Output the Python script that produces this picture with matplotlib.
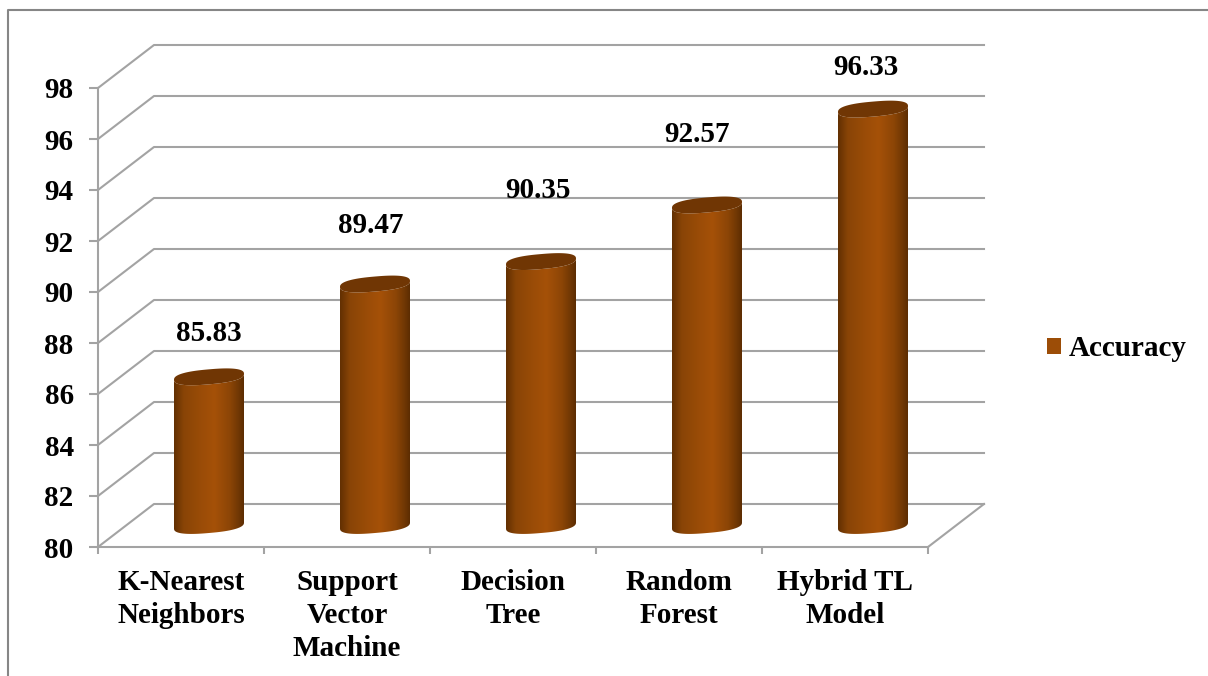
import numpy as np
import matplotlib
matplotlib.use("Agg")
import matplotlib.pyplot as plt
from matplotlib.colors import LinearSegmentedColormap
from matplotlib.lines import Line2D
from matplotlib.patches import Patch, Polygon

categories = ["K-Nearest\nNeighbors", "Support\nVector\nMachine", "Decision\nTree",
              "Random\nForest", "Hybrid TL\nModel"]
accuracy = [85.83, 89.47, 90.35, 92.57, 96.33]
y_ticks = [80, 82, 84, 86, 88, 90, 92, 94, 96, 98]

W, H = 1208, 676
GRID = "#a3a3a3"
BAR = "#9c4d07"
TOP = "#703604"

plt.rcParams["font.family"] = ["Liberation Serif", "DejaVu Serif"]
plt.rcParams["font.weight"] = "bold"
plt.rcParams["font.size"] = 21

fig = plt.figure(figsize=(W / 100, H / 100), dpi=100)
ax = fig.add_axes([98 / W, (H - 547) / H, 830 / W, 459 / H])
ax.set_xlim(0, 5)
ax.set_ylim(80, 98)

# pixel sizes turned into data units
px_x = 5 / 830
px_y = 18 / 459
depth_x = 56 * px_x
depth_y = 43 * px_y

# outer chart border, only left and top are in view
fig.add_artist(Line2D([8 / W, 8 / W, 1], [0, 1 - 10 / H, 1 - 10 / H],
                      color="#868686", lw=1.5, transform=fig.transFigure))

# walls of the fake 3d box
for v in y_ticks:
    ax.plot([0, depth_x, 5 + depth_x], [v, v + depth_y, v + depth_y],
            color=GRID, lw=1.5, clip_on=False, zorder=1)
ax.plot([5, 5 + depth_x], [80, 80 + depth_y], color=GRID, lw=1.5, clip_on=False, zorder=1)

shade = LinearSegmentedColormap.from_list(
    "cyl", [(0, "#623002"), (0.14, "#894406"), (0.35, "#984b07"), (0.58, "#a55108"),
            (0.8, "#8c4506"), (0.93, "#6f3704"), (1, "#5c2d02")])
t = np.linspace(0, 2 * np.pi, 121)
gradient = np.linspace(0, 1, 256).reshape(1, -1)
half_w = 35 * px_x


def ring(angles):
    # slightly squarish tilted ellipse, offsets in data units
    c = np.sign(np.cos(angles)) * np.abs(np.cos(angles)) ** 0.8
    s = np.sign(np.sin(angles)) * np.abs(np.sin(angles)) ** 0.8
    return half_w * c, (3 * c + 7.5 * s) * px_y


for i, value in enumerate(accuracy):
    cx = i + 0.5 + depth_x / 2
    y0 = 80 + depth_y / 2
    y1 = value + depth_y / 2
    ex, ey = ring(t)
    low_dx, low_dy = ring(t[60:121])    # lower half, left to right
    outline = np.vstack([np.column_stack([cx + low_dx, y0 + low_dy]),
                         np.column_stack([cx + low_dx[::-1], y1 + low_dy[::-1]])])
    body = ax.imshow(gradient, cmap=shade, aspect="auto", zorder=3,
                     extent=[cx - half_w, cx + half_w, y0 - 1, y1 + 1])
    body.set_clip_path(Polygon(outline, closed=True, transform=ax.transData))
    ax.add_patch(Polygon(np.column_stack([cx + ex, y1 + ey]), closed=True,
                         facecolor=TOP, edgecolor="none", clip_on=False, zorder=4))

ax.set_xlim(0, 5)
ax.set_ylim(80, 98)

# data labels were placed by hand in the original
label_nudge = [(0, 43), (-4, 59), (-3, 71), (-10, 70), (-7, 42)]
for i, value in enumerate(accuracy):
    ax.text(i + 0.5 + depth_x / 2 + label_nudge[i][0] * px_x,
            value + depth_y / 2 + label_nudge[i][1] * px_y,
            f"{value:.2f}", ha="center", va="center", color="black",
            clip_on=False, zorder=5)

for side in ["top", "right"]:
    ax.spines[side].set_visible(False)
for side in ["left", "bottom"]:
    ax.spines[side].set_color(GRID)
    ax.spines[side].set_linewidth(1.5)
ax.patch.set_alpha(0)

ax.set_yticks(y_ticks)
ax.tick_params(axis="y", length=6.5, width=1.5, color=GRID, pad=11)
ax.set_xticks(range(6))
ax.set_xticklabels([])
ax.tick_params(axis="x", which="major", length=5, width=1.5, color=GRID)
ax.set_xticks(np.arange(5) + 0.5, minor=True)
ax.set_xticklabels(categories, minor=True, linespacing=1.3, ha="center", va="top")
ax.tick_params(axis="x", which="minor", length=0, pad=15.5)

ax.legend(handles=[Patch(facecolor=BAR, edgecolor="none", label="Accuracy")],
          loc="center left", bbox_to_anchor=(1047 / W, 1 - 349 / H),
          bbox_transform=fig.transFigure, frameon=False, borderpad=0, borderaxespad=0,
          handlelength=0.48, handleheight=0.5, handletextpad=0.25, fontsize=21)

fig.savefig("out.png", dpi=100)
